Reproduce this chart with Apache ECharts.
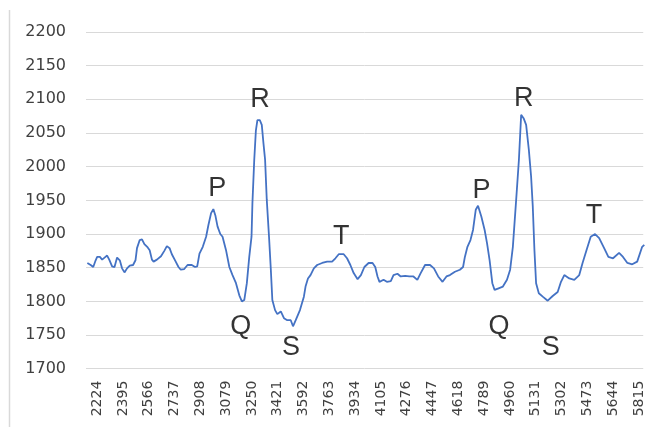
<!DOCTYPE html>
<html>
<head>
<meta charset="utf-8">
<script src="https://cdn.jsdelivr.net/npm/echarts@6/dist/echarts.min.js"></script>
<style>
  html, body { margin: 0; padding: 0; background: #ffffff; }
  #chart { width: 646px; height: 427px; }
</style>
</head>
<body>
<div id="chart"></div>
<script>
// Sample index (x) of each traced point
const sampleIndex = [2159, 2181, 2198, 2214, 2224, 2242, 2257, 2273, 2290, 2304,
  2323, 2339, 2356, 2374, 2389, 2405, 2422, 2440, 2462, 2478,
  2488, 2506, 2521, 2537, 2559, 2572, 2587, 2598, 2620, 2647,
  2669, 2686, 2704, 2719, 2742, 2763, 2778, 2801, 2823, 2851,
  2873, 2887, 2902, 2924, 2946, 2961, 2979, 2994, 3007, 3022,
  3040, 3055, 3078, 3100, 3121, 3144, 3166, 3183, 3199, 3216,
  3232, 3247, 3253, 3265, 3276, 3286, 3302, 3315, 3326, 3337,
  3348, 3363, 3375, 3385, 3403, 3418, 3441, 3462, 3484, 3507,
  3522, 3540, 3568, 3594, 3605, 3621, 3638, 3660, 3682, 3715,
  3748, 3781, 3803, 3825, 3858, 3880, 3902, 3924, 3950, 3972,
  3995, 4023, 4049, 4067, 4082, 4095, 4122, 4144, 4170, 4188,
  4214, 4236, 4265, 4293, 4320, 4346, 4368, 4397, 4430, 4456,
  4484, 4513, 4539, 4562, 4595, 4628, 4649, 4661, 4678, 4698,
  4715, 4733, 4748, 4770, 4792, 4808, 4825, 4843, 4858, 4880,
  4913, 4940, 4961, 4979, 5001, 5019, 5034, 5050, 5067, 5085,
  5100, 5111, 5122, 5133, 5151, 5177, 5210, 5243, 5276, 5298,
  5320, 5353, 5386, 5419, 5441, 5467, 5495, 5524, 5551, 5584,
  5612, 5643, 5683, 5709, 5738, 5770, 5803, 5836, 5850];

// ECG amplitude at each sample
const amplitude = [1857, 1854, 1851, 1861, 1866, 1866, 1862, 1865, 1868, 1862,
  1852, 1851, 1865, 1861, 1849, 1843, 1849, 1853, 1854, 1861,
  1879, 1891, 1892, 1885, 1880, 1876, 1862, 1859, 1862, 1867,
  1875, 1882, 1879, 1870, 1860, 1851, 1847, 1848, 1854, 1854,
  1851, 1852, 1871, 1881, 1896, 1913, 1931, 1937, 1928, 1911,
  1900, 1896, 1876, 1851, 1839, 1827, 1809, 1800, 1802, 1827,
  1866, 1896, 1946, 2010, 2054, 2069, 2069, 2062, 2035, 2010,
  1951, 1896, 1847, 1802, 1787, 1781, 1785, 1775, 1772, 1772,
  1763, 1772, 1787, 1807, 1822, 1834, 1839, 1849, 1854, 1857,
  1859, 1859, 1864, 1870, 1870, 1864, 1854, 1842, 1833, 1839,
  1851, 1857, 1857, 1851, 1837, 1829, 1832, 1829, 1830, 1839,
  1841, 1837, 1838, 1837, 1837, 1832, 1842, 1854, 1854, 1849,
  1837, 1829, 1837, 1839, 1844, 1847, 1851, 1866, 1881, 1891,
  1906, 1936, 1942, 1926, 1906, 1886, 1861, 1827, 1817, 1819,
  1822, 1832, 1847, 1881, 1951, 2010, 2077, 2072, 2062, 2025,
  1985, 1941, 1876, 1827, 1812, 1807, 1801, 1808, 1814, 1829,
  1839, 1834, 1832, 1839, 1857, 1876, 1896, 1900, 1894, 1879,
  1866, 1864, 1872, 1866, 1857, 1855, 1859, 1881, 1884];

// X-axis tick labels
const xTickLabels = [2224, 2395, 2566, 2737, 2908, 3079, 3250, 3421, 3592, 3763, 3934,
  4105, 4276, 4447, 4618, 4789, 4960, 5131, 5302, 5473, 5644, 5815];

// Y-axis range / ticks
const yMin = 1700, yMax = 2200, yStep = 50;

// Wave annotations (text, sample, amplitude)
const waveText = ['P', 'R', 'Q', 'S', 'T', 'P', 'R', 'Q', 'S', 'T'];
const waveX    = [3020, 3304, 3176, 3508, 3842, 4772, 5052, 4887, 5230, 5517];
const waveY    = [1967, 2100, 1763, 1732, 1896, 1965, 2101, 1762, 1732, 1928];

const lineData = sampleIndex.map((x, i) => [x, amplitude[i]]);
const labelData = waveText.map((t, i) => [waveX[i], waveY[i], t]);

const chart = echarts.init(document.getElementById('chart'), null, { renderer: 'canvas' });
chart.setOption({
  animation: false,
  backgroundColor: '#ffffff',
  grid: { left: 86, right: 0, top: 32, height: 336.7, containLabel: false },
  xAxis: {
    type: 'value',
    min: 2150,
    max: 5843,
    axisLine: { show: false },
    axisTick: { show: false },
    splitLine: { show: false },
    axisLabel: {
      customValues: xTickLabels,
      formatter: v => String(v),
      rotate: 90,
      margin: 12,
      fontFamily: 'DejaVu Sans',
      fontSize: 14,
      color: '#404040'
    }
  },
  yAxis: {
    type: 'value',
    min: yMin,
    max: yMax,
    interval: yStep,
    axisLine: { show: false },
    axisTick: { show: false },
    splitLine: { show: true, lineStyle: { color: '#d9d9d9', width: 1 } },
    axisLabel: {
      formatter: v => String(v),
      margin: 20,
      fontFamily: 'DejaVu Sans',
      fontSize: 16,
      color: '#404040'
    }
  },
  graphic: [{
    type: 'line',
    shape: { x1: 9.5, y1: 10, x2: 9.5, y2: 427 },
    style: { stroke: '#d9d9d9', lineWidth: 1.5 },
    silent: true
  }],
  series: [{
    type: 'line',
    data: lineData,
    showSymbol: false,
    symbol: 'none',
    clip: true,
    lineStyle: { color: '#4472C4', width: 1.8 }
  }, {
    type: 'scatter',
    data: labelData,
    symbolSize: 0,
    silent: true,
    label: {
      show: true,
      position: 'inside',
      formatter: p => p.value[2],
      fontFamily: 'Liberation Sans',
      fontSize: 27,
      color: '#000000'
    }
  }]
});
</script>
</body>
</html>
